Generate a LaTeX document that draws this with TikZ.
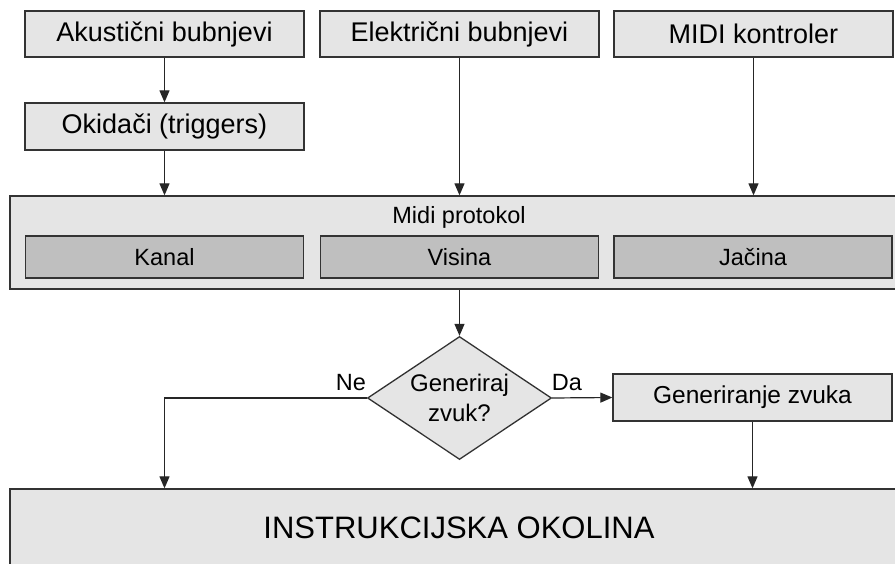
\documentclass[tikz,border=0pt]{standalone}
\usepackage{fontspec}
\setmainfont{Liberation Sans}
\usetikzlibrary{arrows.meta,shapes.geometric}
\definecolor{boxfill}{HTML}{E5E5E5}
\definecolor{innerfill}{HTML}{BFBFBF}
\definecolor{edge}{HTML}{333333}
\tikzset{
  box/.style={draw=edge, fill=boxfill, line width=1.3pt, minimum width=279pt, minimum height=46pt, inner sep=0pt, font=\fontsize{27}{32}\selectfont},
  inner/.style={draw=edge, fill=innerfill, line width=1.6pt, minimum width=278pt, minimum height=42pt, inner sep=0pt, font=\fontsize{23.5}{28}\selectfont},
  big/.style={draw=edge, fill=boxfill, line width=1.3pt, inner sep=0pt},
  lbl/.style={inner sep=0pt, font=\fontsize{23.5}{28}\selectfont},
  dec/.style={diamond, draw=edge, fill=boxfill, line width=1.3pt, aspect=1.5, minimum width=184pt, minimum height=123pt, inner sep=0pt, align=center, font=\fontsize{24}{30}\selectfont},
  arr/.style={draw=black!85, line width=1.2pt, -{Triangle[length=12pt,width=10pt]}},
  ln/.style={draw=black!85, line width=1.2pt}
}
\begin{document}
\begin{tikzpicture}[x=1pt,y=-1pt]
\useasboundingbox (0,0) rectangle (895,564);
\clip (0,0) rectangle (895,564);
% top row
\node[box] (ak) at (164.5,34) {Akustični bubnjevi};
\node[box] (el) at (459.5,34) {Električni bubnjevi};
\node[box] (mc) at (753.5,34) {MIDI kontroler};
\node[box, minimum height=47pt] (ok) at (164.5,126.5) {Okidači (triggers)};
% midi protocol
\node[big, minimum width=899pt, minimum height=93pt] (mp) at (459.5,242.5) {};
\node[lbl] (mpt) at (459,217) {Midi protokol};
\node[inner] (ka) at (164.5,257) {Kanal};
\node[inner] (vi) at (459.5,257) {Visina};
\node[inner] (ja) at (753,257) {Jačina};
% decision
\node[dec] (dz) at (459.5,398) {Generiraj\\zvuk?};
\node[box, minimum height=47pt, font=\fontsize{24.5}{29}\selectfont] (gz) at (752.5,397.5) {Generiranje zvuka};
\node[lbl] (ne) at (351,383) {Ne};
\node[lbl] (da) at (567,383) {Da};
% bottom
\node[big, minimum width=899pt, minimum height=120pt] (io) at (459.5,549) {};
\node[inner sep=0pt, font=\fontsize{31}{36}\selectfont] (iot) at (459,528) {INSTRUKCIJSKA OKOLINA};
% connectors
\draw[arr] (ak.south) -- (ok.north);
\draw[arr] (ok.south) -- (ok.south |- mp.north);
\draw[arr] (el.south) -- (el.south |- mp.north);
\draw[arr] (mc.south) -- (mc.south |- mp.north);
\draw[arr] (mp.south -| dz.north) -- (dz.north);
\draw[arr] (dz.east) -- (gz.west);
\draw[arr] (dz.west) -| (ok.south |- io.north);
\draw[arr] (gz.south) -- (gz.south |- io.north);
\end{tikzpicture}
\end{document}
